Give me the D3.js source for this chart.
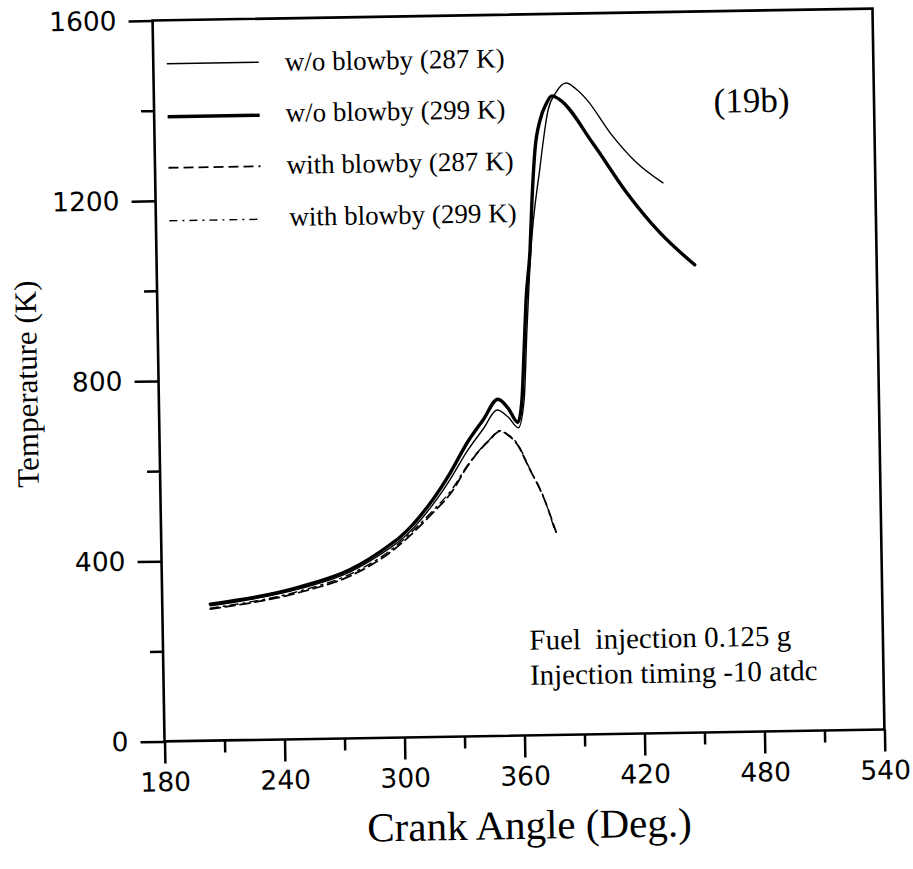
<!DOCTYPE html>
<html>
<head>
<meta charset="utf-8">
<script src="https://cdn.jsdelivr.net/npm/d3@7"></script>
<style>
  html, body { margin: 0; padding: 0; background: #fff; }
  svg { display: block; }
</style>
</head>
<body>
<svg id="chart" width="913" height="869"></svg>
<script>
// ---------------- data ----------------
const xMajorTicks = [180, 240, 300, 360, 420, 480, 540];
const xMinorTicks = [210, 270, 330, 390, 450, 510];
const yMajorTicks = [0, 400, 800, 1200, 1600];
const yMinorTicks = [200, 600, 1000, 1400];

const seriesNames = ["w/o blowby (287 K)", "w/o blowby (299 K)", "with blowby (287 K)", "with blowby (299 K)"];

// w/o blowby (287 K) - thin solid
const woBlowby287Angle = [204, 249, 274, 294, 299.5, 316, 325, 333.7, 342, 349, 354.5, 359.5, 362.6, 364.6, 366.7, 372.5, 377, 381, 386.2, 391, 396.5, 407.8, 421, 433.8];
const woBlowby287Temp  = [299, 334, 369, 420, 437, 515, 571, 633, 682, 723, 707, 683, 744, 900, 1048, 1261, 1387, 1425, 1446, 1433, 1408, 1334, 1266, 1221];

// w/o blowby (299 K) - thick solid
const woBlowby299Angle = [204, 249, 274, 294, 299.5, 316, 325, 333.7, 342, 349.5, 354.5, 359.3, 361.5, 363, 364.4, 366.8, 368.2, 370.1, 372.9, 376, 379, 383, 399, 415.7, 432, 449];
const woBlowby299Temp  = [303, 338, 374, 427, 445, 526, 585, 651, 702, 747, 727, 695, 744, 855, 966, 1077, 1188, 1299, 1365, 1400, 1418, 1409, 1312, 1200, 1110, 1038];

// with blowby (287 K) - dashed
const withBlowby287Angle = [204, 249, 274, 294, 316, 326, 333.5, 345, 350.3, 354, 358.5, 365, 371.4, 377.5];
const withBlowby287Temp  = [292, 326, 360, 410, 497, 545, 598, 657, 676, 668, 648, 589, 529, 450];

// with blowby (299 K) - dash-dot
const withBlowby299Angle = [204, 249, 274, 294, 316, 326, 333.5, 345, 350, 354, 358.5, 365, 371.4, 377];
const withBlowby299Temp  = [294, 329, 364, 414, 502, 550, 600, 658, 677, 669, 650, 590, 530, 452];

const annotationLines = ["Fuel  injection 0.125 g", "Injection timing -10 atdc"];
const panelLabel = "(19b)";
const xTitle = "Crank Angle (Deg.)";
const yTitle = "Temperature (K)";

// ---------------- drawing ----------------
const svg = d3.select("#chart");
svg.append("rect").attr("width", 913).attr("height", 869).attr("fill", "#fff");

// the scanned figure is slightly rotated
const root = svg.append("g").attr("transform", "rotate(-0.95, 518.5, 375)");

const x = d3.scaleLinear().domain([180, 540]).range([158.5, 878.5]);
const y = d3.scaleLinear().domain([0, 1600]).range([735.5, 14.5]);

const serif = "'Liberation Serif', 'Times New Roman', serif";
const sans = "'DejaVu Sans', sans-serif";

// x axis
const xAxisMajor = d3.axisBottom(x).tickValues(xMajorTicks).tickSize(22).tickPadding(9).tickFormat(d3.format("d"));
const xAxisMinor = d3.axisBottom(x).tickValues(xMinorTicks).tickSize(12).tickFormat("");
const gx = root.append("g").attr("transform", `translate(0,${y(0)})`);
gx.call(xAxisMajor);
gx.append("g").call(xAxisMinor);
// y axis
const yAxisMajor = d3.axisLeft(y).tickValues(yMajorTicks).tickSize(24).tickPadding(12).tickFormat(d3.format("d"));
const yAxisMinor = d3.axisLeft(y).tickValues(yMinorTicks).tickSize(13).tickFormat("");
const gy = root.append("g").attr("transform", `translate(${x(180)},0)`);
gy.call(yAxisMajor);
gy.append("g").call(yAxisMinor);

root.selectAll(".domain").remove();
root.selectAll(".tick line").attr("stroke", "#000").attr("stroke-width", 2.5);
root.selectAll(".tick text").attr("font-family", sans).attr("font-size", 26.5).attr("fill", "#000");

// frame
root.append("rect")
  .attr("x", x(180)).attr("y", y(1600))
  .attr("width", x(540) - x(180)).attr("height", y(0) - y(1600))
  .attr("fill", "none").attr("stroke", "#000").attr("stroke-width", 2.6);

// curves
const line = d3.line().x(d => x(d[0])).y(d => y(d[1])).curve(d3.curveMonotoneX);
const series = [
  { angle: woBlowby287Angle, temp: woBlowby287Temp, w: 1.4, dash: null },
  { angle: woBlowby299Angle, temp: woBlowby299Temp, w: 3.4, dash: null },
  { angle: withBlowby287Angle, temp: withBlowby287Temp, w: 1.8, dash: "10,5" },
  { angle: withBlowby299Angle, temp: withBlowby299Temp, w: 1.4, dash: "8,5,2,5" }
];
series.forEach(s => {
  const pts = s.angle.map((a, i) => [a, s.temp[i]]);
  root.append("path").datum(pts)
    .attr("d", line)
    .attr("fill", "none")
    .attr("stroke", "#000")
    .attr("stroke-width", s.w)
    .attr("stroke-linejoin", "round")
    .attr("stroke-linecap", "round")
    .attr("stroke-dasharray", s.dash);
});

// legend
const legendRows = [
  { ly: 58, tx: 290, ty: 67 },
  { ly: 111, tx: 290, ty: 118 },
  { ly: 162, tx: 290, ty: 170 },
  { ly: 215, tx: 292, ty: 222 }
];
legendRows.forEach((r, i) => {
  root.append("line")
    .attr("x1", 172).attr("x2", 264).attr("y1", r.ly).attr("y2", r.ly)
    .attr("stroke", "#000").attr("stroke-width", series[i].w)
    .attr("stroke-dasharray", series[i].dash);
  root.append("text")
    .attr("x", r.tx).attr("y", r.ty)
    .attr("font-family", serif).attr("font-size", 27)
    .attr("fill", "#000")
    .text(seriesNames[i]);
});

// panel label
root.append("text").attr("x", 756).attr("y", 116).attr("text-anchor", "middle")
  .attr("font-family", serif).attr("font-size", 35).attr("fill", "#000").text(panelLabel);

// annotation
annotationLines.forEach((t, i) => {
  root.append("text").attr("x", 525).attr("y", 650 + i * 35)
    .attr("font-family", serif).attr("font-size", 29).attr("fill", "#000")
    .attr("xml:space", "preserve").style("white-space", "pre").text(t);
});

// axis titles
root.append("text").attr("x", 522).attr("y", 839).attr("text-anchor", "middle")
  .attr("font-family", serif).attr("font-size", 41).attr("fill", "#000").text(xTitle);
root.append("text")
  .attr("transform", "translate(37,376) rotate(-90)")
  .attr("text-anchor", "middle")
  .attr("font-family", serif).attr("font-size", 31).attr("fill", "#000").text(yTitle);
</script>
</body>
</html>
